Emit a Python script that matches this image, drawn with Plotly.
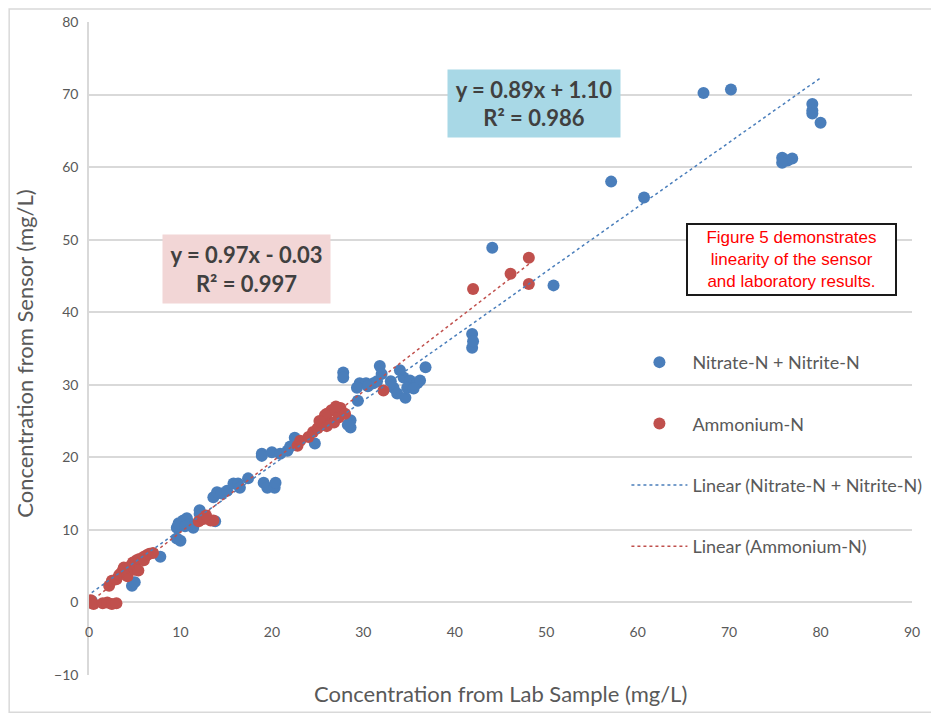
import plotly.graph_objects as go

# Nitrate-N + Nitrite-N (lab, sensor)
nitrate_x = [0.3, 4.7, 5.0, 7.8,
             9.6, 10.0, 9.6, 10.3, 9.8, 10.7, 11.4, 11.0, 12.1, 12.1, 10.5,
             13.6, 14.0, 14.5, 15.1, 15.8, 16.3, 16.5, 17.4, 13.8,
             19.1, 19.5, 20.3, 20.4, 18.9, 18.9, 20.0, 20.9, 21.7, 22.5, 24.7, 22.0,
             28.6, 28.6, 28.3, 29.4, 27.8, 27.8, 29.6, 30.3, 31.1, 29.3, 30.5, 31.5,
             31.8, 32.0, 33.3, 33.7, 34.6, 34.4, 35.1, 35.9, 36.2, 36.8, 34.8, 34.0,
             35.5, 33.0,
             41.9, 41.9, 42.0, 44.1, 50.8, 57.1, 60.7, 67.2, 70.2, 75.8, 76.4, 76.9,
             75.8, 79.1, 79.1, 79.1, 80.0]
nitrate_y = [0.2, 2.3, 2.8, 6.3,
             8.8, 8.5, 10.3, 11.3, 10.9, 11.6, 10.3, 10.8, 12.2, 12.7, 10.5,
             14.5, 15.2, 15.0, 15.4, 16.4, 16.4, 15.8, 17.1, 11.2,
             16.5, 15.8, 15.8, 16.5, 20.5, 20.2, 20.7, 20.5, 20.9, 22.7, 21.9, 21.5,
             24.1, 25.1, 24.5, 27.8, 31.7, 31.0, 30.2, 30.2, 30.2, 29.6, 29.8, 30.5,
             32.6, 31.5, 29.6, 28.8, 28.2, 31.0, 30.6, 30.2, 30.6, 32.4, 29.6, 32.0,
             29.5, 30.5,
             37.0, 35.1, 36.0, 48.9, 43.7, 58.0, 55.8, 70.2, 70.7, 61.3, 60.9, 61.2,
             60.6, 68.7, 67.8, 67.4, 66.1]

# Ammonium-N (lab, sensor)
ammonium_x = [0.0, 0.2, 0.5, 1.5, 2.0, 2.5, 3.0,
              2.2, 2.5, 3.0, 3.3, 3.6, 3.8, 4.0, 4.3, 4.5, 4.8, 5.0, 5.2, 5.5, 5.8,
              6.0, 6.3, 6.6, 7.0, 4.2, 5.0, 5.4, 6.0,
              12.0, 12.5, 12.5, 13.3, 13.6, 12.8,
              22.8, 23.1,
              24.0, 24.5, 25.0, 25.5, 26.0, 26.0, 26.5, 27.0, 27.3, 27.5, 28.0, 26.8,
              25.8, 27.0, 26.0, 25.2,
              32.2,
              42.0, 46.1, 48.1, 48.1]
ammonium_y = [0.0, 0.3, -0.2, -0.1, 0.0, -0.2, -0.1,
              2.3, 3.0, 3.2, 3.8, 4.2, 4.8, 4.5, 4.2, 5.0, 5.5, 5.2, 5.8, 6.0, 5.9,
              6.3, 6.5, 6.7, 6.8, 3.6, 4.5, 4.4, 5.8,
              11.2, 11.5, 11.6, 11.3, 11.3, 12.0,
              21.6, 22.3,
              22.8, 23.5, 24.0, 24.8, 25.2, 26.0, 26.5, 26.3, 25.5, 26.8, 26.0, 24.8,
              25.8, 27.0, 24.3, 25.0,
              29.2,
              43.2, 45.3, 47.5, 43.9]

# Trendline coefficients shown on the chart (slope, intercept, R²)
nitrate_fit = (0.89, 1.10, 0.986)
ammonium_fit = (0.97, -0.03, 0.997)

x_ticks = [0, 10, 20, 30, 40, 50, 60, 70, 80, 90]
y_ticks = [-10, 0, 10, 20, 30, 40, 50, 60, 70, 80]

BLUE = "#4a7ebb"
RED = "#c0504d"
GRAY = "#595959"
FONT = "Lato"


def fit_line(xs, coef):
    x0, x1 = min(xs), max(xs)
    return [x0, x1], [coef[0] * x0 + coef[1], coef[0] * x1 + coef[1]]


fig = go.Figure()
fig.add_trace(go.Scatter(x=nitrate_x, y=nitrate_y, mode="markers",
                         name="Nitrate-N + Nitrite-N", legendgroup="a",
                         marker=dict(color=BLUE, size=12)))
fig.add_trace(go.Scatter(x=ammonium_x, y=ammonium_y, mode="markers",
                         name="Ammonium-N", legendgroup="b",
                         marker=dict(color=RED, size=12)))
lx, ly = fit_line(nitrate_x, nitrate_fit)
fig.add_trace(go.Scatter(x=lx, y=ly, mode="lines",
                         name="Linear (Nitrate-N + Nitrite-N)", legendgroup="c",
                         line=dict(color=BLUE, width=1.5, dash="dot")))
lx, ly = fit_line(ammonium_x, ammonium_fit)
fig.add_trace(go.Scatter(x=lx, y=ly, mode="lines",
                         name="Linear (Ammonium-N)", legendgroup="d",
                         line=dict(color=RED, width=1.5, dash="dot")))

fig.update_layout(
    width=931, height=706,
    margin=dict(l=81, r=27, t=14, b=39, autoexpand=False),
    paper_bgcolor="white", plot_bgcolor="white",
    font=dict(family=FONT, color=GRAY),
    showlegend=True,
    legend=dict(x=0.653, y=0.507, xanchor="left", yanchor="top",
                font=dict(family=FONT, size=18, color=GRAY),
                tracegroupgap=35, itemwidth=56, bgcolor="rgba(0,0,0,0)"),
    xaxis=dict(range=[0, 90], tickvals=x_ticks, showgrid=False, zeroline=False,
               showline=False, anchor="free", position=(0 - (-10)) / 90,
               ticks="", ticklabelstandoff=20, automargin=False,
               tickfont=dict(family=FONT, size=14, color=GRAY)),
    yaxis=dict(range=[-10, 80], tickvals=y_ticks, showgrid=True,
               gridcolor="#d9d9d9", gridwidth=1.5, zeroline=False,
               showline=True, linecolor="#d9d9d9", linewidth=1.5,
               ticks="", ticklabelstandoff=6, automargin=False,
               tickfont=dict(family=FONT, size=14, color=GRAY)),
)

# axis titles
fig.add_annotation(text="Concentration from Lab Sample (mg/L)", xref="paper",
                   yref="paper", x=0.5, y=-0.0276, xanchor="center",
                   yanchor="middle", showarrow=False,
                   font=dict(family=FONT, size=22, color=GRAY))
fig.add_annotation(text="Concentration from Sensor (mg/L)", xref="paper",
                   yref="paper", x=-0.078, y=0.4916, xanchor="center",
                   yanchor="middle", textangle=-90, showarrow=False,
                   font=dict(family=FONT, size=22, color=GRAY))

# equation boxes
fig.add_annotation(
    text=f"y = {nitrate_fit[0]:.2f}x + {nitrate_fit[1]:.2f}<br>R² = {nitrate_fit[2]:.3f}",
    x=48.7, y=68.8, showarrow=False, bgcolor="#a8d8e6", borderpad=0,
    width=172, height=67,
    font=dict(family=FONT, size=22, color="#404040", weight="bold"))
fig.add_annotation(
    text=f"y = {ammonium_fit[0]:.2f}x - {abs(ammonium_fit[1]):.2f}<br>R² = {ammonium_fit[2]:.3f}",
    x=17.2, y=46.0, showarrow=False, bgcolor="#f2d6d6", borderpad=0,
    width=167, height=68,
    font=dict(family=FONT, size=22, color="#404040", weight="bold"))
fig.add_annotation(
    text="Figure 5 demonstrates<br>linearity of the sensor<br>and laboratory results.",
    x=76.8, y=47.3, showarrow=False, bgcolor="white", bordercolor="#1a1a1a",
    borderwidth=2, borderpad=3, width=201, height=63,
    font=dict(family="Liberation Sans", size=17, color="#ff0000"))

# outer frame
fig.add_shape(type="rect", xref="paper", yref="paper",
              x0=-0.097, x1=1.027, y0=-0.057, y1=1.02,
              line=dict(color="#d9d9d9", width=1.5))

fig.write_html("out.html")
